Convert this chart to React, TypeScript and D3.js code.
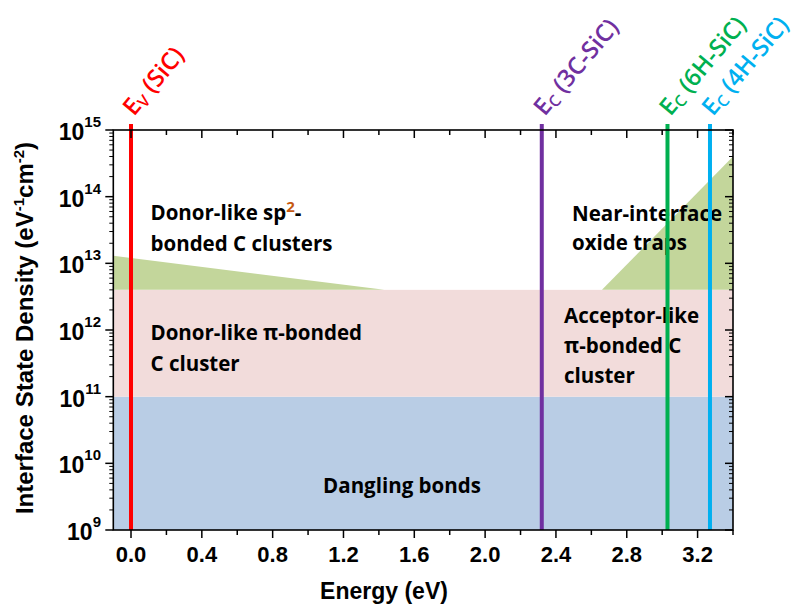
import React from 'react';
import * as d3 from 'd3';

// ---- data ----
const xMajorTicks = [0, 0.4, 0.8, 1.2, 1.6, 2.0, 2.4, 2.8, 3.2];
const xMinorTicks = [0.2, 0.6, 1.0, 1.4, 1.8, 2.2, 2.6, 3.0, 3.4];
const yDecades = [9, 10, 11, 12, 13, 14, 15];
const danglingBand = [1e9, 1e11];
const piBondedBand = [1e11, 4e12];
const donorSp2Polygon: [number, number][] = [[-0.1, 1.3e13], [1.43, 4e12], [-0.1, 4e12]];
const nearInterfacePolygon: [number, number][] = [[2.66, 4e12], [3.4, 4e14], [3.4, 4e12]];
const bandEdgeEnergies = [0.0, 2.32, 3.03, 3.27];
const bandEdgeSubs = ['V', 'C', 'C', 'C'];
const bandEdgeNames = [' (SiC)', ' (3C-SiC)', ' (6H-SiC)', ' (4H-SiC)'];
const bandEdgeColors = ['#ff0000', '#7030a0', '#00b050', '#00b0f0'];

const W = 795, H = 612;
const left = 113.3, right = 733, top = 130, bottom = 530;

export default function App() {
  const x = d3.scaleLinear().domain([-0.1, 3.4]).range([left, right]);
  const y = d3.scaleLog().domain([1e9, 1e15]).range([bottom, top]);
  const poly = d3.line<[number, number]>().x(d => x(d[0])).y(d => y(d[1]));
  const xMin = x.domain()[0], xMax = x.domain()[1];

  const logMinor: number[] = [];
  for (let k = 9; k < 15; k++) for (let m = 2; m <= 9; m++) logMinor.push(m * Math.pow(10, k));

  const annFont = "'Open Sans', sans-serif";
  const axFont = "Liberation Sans, Arial, Helvetica, sans-serif";
  const annStyle = { fontFamily: annFont, fontWeight: 700, fontSize: 20.5, fill: '#000' } as const;

  return (
    <svg width={W} height={H} style={{ position: 'absolute', left: 0, top: 0 }}>
      <rect x={0} y={0} width={W} height={H} fill="#fff" />
      {/* regions */}
      <rect x={x(xMin)} y={y(danglingBand[1])} width={x(xMax) - x(xMin)} height={y(danglingBand[0]) - y(danglingBand[1])} fill="#b9cde5" />
      <rect x={x(xMin)} y={y(piBondedBand[1])} width={x(xMax) - x(xMin)} height={y(piBondedBand[0]) - y(piBondedBand[1])} fill="#f2dcdb" />
      <path d={poly(donorSp2Polygon) + 'Z'} fill="#c3d69b" />
      <path d={poly(nearInterfacePolygon) + 'Z'} fill="#c3d69b" />

      {/* annotations */}
      <text x={150.5} y={220} {...annStyle}>Donor-like sp<tspan fill="#c65911" fontSize={15} dy={-8}>2</tspan><tspan dy={8}>-</tspan></text>
      <text x={150.5} y={251} {...annStyle}>bonded C clusters</text>
      <text x={150.5} y={340} {...annStyle}>Donor-like π-bonded</text>
      <text x={150.5} y={371} {...annStyle}>C cluster</text>
      <text x={564} y={323} {...annStyle}>Acceptor-like</text>
      <text x={564} y={353} {...annStyle}>π-bonded C</text>
      <text x={564} y={383} {...annStyle}>cluster</text>
      <text x={572} y={221} {...annStyle}>Near-interface</text>
      <text x={572} y={250} {...annStyle}>oxide traps</text>
      <text x={402} y={493} textAnchor="middle" {...annStyle}>Dangling bonds</text>

      {/* band edge lines */}
      {bandEdgeEnergies.map((e, i) => (
        <g key={i}>
          <line x1={x(e)} x2={x(e)} y1={124} y2={bottom} stroke={bandEdgeColors[i]} strokeWidth={4} />
          <text transform={`translate(${x(e) + 3},${117}) rotate(-50)`} fontFamily={annFont} fontWeight={600} fontSize={24} fill={bandEdgeColors[i]}>
            E<tspan fontSize={16} dy={3}>{bandEdgeSubs[i]}</tspan><tspan dy={-3}>{bandEdgeNames[i]}</tspan>
          </text>
        </g>
      ))}

      {/* frame */}
      <rect x={left} y={top} width={right - left} height={bottom - top} fill="none" stroke="#000" strokeWidth={1.6} />

      {/* x ticks */}
      {xMajorTicks.map(t => (
        <g key={'xm' + t}>
          <line x1={x(t)} x2={x(t)} y1={bottom} y2={bottom + 8} stroke="#000" strokeWidth={1.5} />
          <line x1={x(t)} x2={x(t)} y1={top} y2={top + 8} stroke="#000" strokeWidth={1.5} />
          <text x={x(t)} y={562} textAnchor="middle" fontFamily={axFont} fontWeight="bold" fontSize={22}>{t.toFixed(1)}</text>
        </g>
      ))}
      {xMinorTicks.map(t => (
        <g key={'xn' + t}>
          <line x1={x(t)} x2={x(t)} y1={bottom} y2={bottom + 5} stroke="#000" strokeWidth={1.5} />
          <line x1={x(t)} x2={x(t)} y1={top} y2={top + 5} stroke="#000" strokeWidth={1.5} />
        </g>
      ))}

      {/* y ticks */}
      {yDecades.map(k => {
        const v = Math.pow(10, k);
        return (
          <g key={'yd' + k}>
            <line x1={left - 8} x2={left} y1={y(v)} y2={y(v)} stroke="#000" strokeWidth={1.5} />
            <line x1={right - 8} x2={right} y1={y(v)} y2={y(v)} stroke="#000" strokeWidth={1.5} />
            <text x={101} y={y(v) + 10} textAnchor="end" fontFamily={axFont} fontWeight="bold" fontSize={23}>
              10<tspan fontSize={15} dy={-13}>{k}</tspan>
            </text>
          </g>
        );
      })}
      {logMinor.map(v => (
        <g key={'ym' + v}>
          <line x1={left - 4} x2={left} y1={y(v)} y2={y(v)} stroke="#000" strokeWidth={1} />
          <line x1={right - 4} x2={right} y1={y(v)} y2={y(v)} stroke="#000" strokeWidth={1} />
        </g>
      ))}

      {/* axis titles */}
      <text x={384} y={599} textAnchor="middle" fontFamily={axFont} fontWeight="bold" fontSize={23}>Energy (eV)</text>
      <text transform="translate(33,328) rotate(-90)" textAnchor="middle" fontFamily={axFont} fontWeight="bold" fontSize={24}>
        Interface State Density (eV<tspan fontSize={15} dy={-9}>-1</tspan><tspan dy={9}>cm</tspan><tspan fontSize={15} dy={-9}>-2</tspan><tspan dy={9}>)</tspan>
      </text>
    </svg>
  );
}
